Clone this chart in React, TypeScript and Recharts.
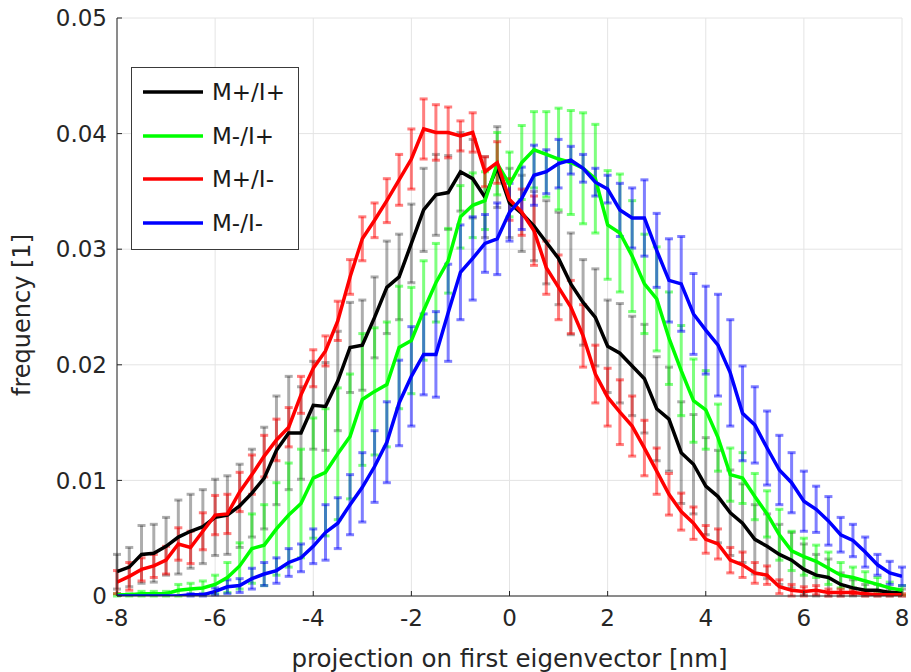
import React from 'react';
import { LineChart, Line, XAxis, YAxis, CartesianGrid, ErrorBar, Label } from 'recharts';

const xValues = [
  -8, -7.75, -7.5, -7.25, -7, -6.75, -6.5, -6.25, -6, -5.75, -5.5, -5.25, -5, -4.75, -4.5, -4.25,
  -4, -3.75, -3.5, -3.25, -3, -2.75, -2.5, -2.25, -2, -1.75, -1.5, -1.25, -1, -0.75, -0.5, -0.25,
  0, 0.25, 0.5, 0.75, 1, 1.25, 1.5, 1.75, 2, 2.25, 2.5, 2.75, 3, 3.25, 3.5, 3.75,
  4, 4.25, 4.5, 4.75, 5, 5.25, 5.5, 5.75, 6, 6.25, 6.5, 6.75, 7, 7.25, 7.5, 7.75, 8,
];

// M+/I+
const mpip = [
  0.0021, 0.0025, 0.0036, 0.0037, 0.0043, 0.0051, 0.0056, 0.006, 0.0068, 0.007, 0.0078, 0.0089, 0.0102, 0.0126, 0.0141, 0.0141,
  0.0165, 0.0164, 0.0186, 0.0215, 0.0217, 0.0241, 0.0267, 0.0276, 0.0305, 0.0334, 0.0347, 0.0349, 0.0367, 0.0361, 0.0345, 0.0371,
  0.034, 0.0331, 0.032, 0.0306, 0.0292, 0.027, 0.0254, 0.0241, 0.0216, 0.021, 0.0199, 0.0188, 0.0162, 0.0153, 0.0124, 0.0114,
  0.0095, 0.0086, 0.0072, 0.0063, 0.0049, 0.0043, 0.0036, 0.0031, 0.0023, 0.0018, 0.0016, 0.001, 0.0007, 0.0005, 0.0005, 0.0003, 0.0003,
];
const mpipErr = [
  0.0015, 0.0017, 0.0025, 0.0025, 0.0025, 0.0032, 0.0032, 0.0032, 0.0033, 0.0034, 0.0036, 0.0038, 0.0044, 0.0047, 0.0049, 0.004,
  0.0038, 0.0038, 0.0043, 0.0039, 0.0039, 0.0035, 0.004, 0.0037, 0.0034, 0.0036, 0.0035, 0.0032, 0.0034, 0.0034, 0.0035, 0.0035,
  0.003, 0.0033, 0.003, 0.0036, 0.004, 0.0044, 0.0037, 0.0042, 0.004, 0.0043, 0.0043, 0.0047, 0.0045, 0.0045, 0.0044, 0.0043,
  0.0042, 0.004, 0.0037, 0.0034, 0.003, 0.0028, 0.0026, 0.0024, 0.0022, 0.0018, 0.0016, 0.001, 0.0007, 0.0005, 0.0005, 0.0003, 0.0003,
];

// M-/I+
const mmip = [
  0.0001, 0.0001, 0.0002, 0.0002, 0.0002, 0.0005, 0.0006, 0.0007, 0.001, 0.0016, 0.0026, 0.0041, 0.0044, 0.0058, 0.007, 0.008,
  0.0102, 0.0107, 0.0123, 0.0138, 0.017, 0.0177, 0.0183, 0.0215, 0.0221, 0.0247, 0.0271, 0.029, 0.0328, 0.0338, 0.0342, 0.0374,
  0.0356, 0.0375, 0.0386, 0.0382, 0.0378, 0.0375, 0.037, 0.0361, 0.0321, 0.0314, 0.0294, 0.027, 0.0257, 0.0223, 0.0195, 0.0169,
  0.0161, 0.0137, 0.0105, 0.0102, 0.0086, 0.0071, 0.0053, 0.0039, 0.0034, 0.003, 0.0024, 0.0018, 0.0016, 0.0013, 0.001, 0.0007, 0.0005,
];
const mmipErr = [
  0.0001, 0.0001, 0.0002, 0.0002, 0.0002, 0.0005, 0.0005, 0.0006, 0.0008, 0.0013, 0.002, 0.003, 0.0035, 0.004, 0.0045, 0.0047,
  0.0052, 0.0055, 0.0057, 0.0054, 0.0057, 0.0055, 0.0054, 0.0053, 0.0046, 0.0043, 0.0034, 0.0028, 0.0027, 0.0028, 0.0025, 0.0027,
  0.0028, 0.0032, 0.0033, 0.0037, 0.0044, 0.0045, 0.0048, 0.0047, 0.0047, 0.0051, 0.0048, 0.0043, 0.0045, 0.004, 0.0039, 0.0036,
  0.0034, 0.0029, 0.0023, 0.0022, 0.002, 0.002, 0.0022, 0.0017, 0.0016, 0.0014, 0.0014, 0.0011, 0.0009, 0.0008, 0.0006, 0.0005, 0.0004,
];

// M+/I-
const mpim = [
  0.0012, 0.0017, 0.0023, 0.0026, 0.0031, 0.0045, 0.0042, 0.0056, 0.007, 0.0071, 0.009, 0.0105, 0.0121, 0.0135, 0.0146, 0.0174,
  0.0197, 0.0212, 0.0238, 0.0276, 0.0309, 0.0325, 0.0342, 0.036, 0.0378, 0.0404, 0.0401, 0.0401, 0.0398, 0.0401, 0.0367, 0.0375,
  0.0343, 0.0332, 0.0316, 0.0284, 0.0267, 0.025, 0.0225, 0.0192, 0.0172, 0.0159, 0.0147, 0.0128, 0.0108, 0.0088, 0.0073, 0.0063,
  0.0049, 0.0045, 0.0031, 0.0027, 0.002, 0.0018, 0.0008, 0.0005, 0.0004, 0.0005, 0.0003, 0.0003, 0.0003, 0.0002, 0.0001, 0.0001, 0.0001,
];
const mpimErr = [
  0.001, 0.0012, 0.001, 0.001, 0.0012, 0.0014, 0.0014, 0.0016, 0.0017, 0.0017, 0.0017, 0.0017, 0.0018, 0.0018, 0.0017, 0.0016,
  0.0016, 0.0013, 0.0017, 0.0015, 0.0019, 0.0015, 0.0019, 0.0022, 0.0026, 0.0026, 0.0024, 0.0022, 0.0013, 0.0017, 0.0013, 0.0018,
  0.0018, 0.002, 0.003, 0.0023, 0.0028, 0.0023, 0.0027, 0.0025, 0.0025, 0.0028, 0.0026, 0.0024, 0.002, 0.0018, 0.0016, 0.0014,
  0.0012, 0.0013, 0.0011, 0.0011, 0.0009, 0.0008, 0.0006, 0.0005, 0.0004, 0.0004, 0.0003, 0.0003, 0.0002, 0.0002, 0.0001, 0.0001, 0.0001,
];

// M-/I-
const mmim = [
  0, 0, 0, 0, 0, 0, 0.0001, 0.0001, 0.0004, 0.0008, 0.0009, 0.0015, 0.0019, 0.0022, 0.0029, 0.0033,
  0.0043, 0.0055, 0.0063, 0.0079, 0.0094, 0.0112, 0.0133, 0.0167, 0.019, 0.0209, 0.0209, 0.0245, 0.028, 0.0292, 0.0305, 0.0309,
  0.0332, 0.0344, 0.0364, 0.0367, 0.0374, 0.0377, 0.037, 0.0358, 0.0352, 0.0334, 0.0327, 0.0327, 0.0299, 0.0273, 0.027, 0.0244,
  0.023, 0.0217, 0.0193, 0.0158, 0.0148, 0.0128, 0.0109, 0.0098, 0.0082, 0.0075, 0.0065, 0.0053, 0.0048, 0.0038, 0.0027, 0.002, 0.0017,
];
const mmimErr = [
  0, 0, 0, 0, 0, 0, 0.0001, 0.0001, 0.0003, 0.0006, 0.0006, 0.0009, 0.001, 0.0011, 0.0012, 0.0012,
  0.0015, 0.0024, 0.0022, 0.0026, 0.003, 0.0031, 0.0035, 0.0037, 0.0043, 0.0035, 0.0037, 0.0042, 0.0041, 0.0036, 0.0025, 0.0031,
  0.0025, 0.0027, 0.0026, 0.0019, 0.0021, 0.0012, 0.0012, 0.0012, 0.0012, 0.0023, 0.0026, 0.0033, 0.0032, 0.0036, 0.0041, 0.0035,
  0.0038, 0.0044, 0.0046, 0.0041, 0.0033, 0.0032, 0.003, 0.0026, 0.0026, 0.002, 0.0021, 0.0015, 0.0014, 0.0013, 0.0009, 0.001, 0.0008,
];

const xTicks = [-8, -6, -4, -2, 0, 2, 4, 6, 8];
const yTicks = [0, 0.01, 0.02, 0.03, 0.04, 0.05];

const seriesNames = ['M+/I+', 'M-/I+', 'M+/I-', 'M-/I-'];
const seriesKeys = ['mpip', 'mmip', 'mpim', 'mmim'];
const seriesColors = ['#000000', '#00ff00', '#ff0000', '#0000ff'];
const errOpacity = [0.32, 0.5, 0.5, 0.5];

const rows = xValues.map((x, i) => ({
  x,
  mpip: mpip[i], mpipErr: mpipErr[i],
  mmip: mmip[i], mmipErr: mmipErr[i],
  mpim: mpim[i], mpimErr: mpimErr[i],
  mmim: mmim[i], mmimErr: mmimErr[i],
}));

const W = 911;
const H = 672;
const FONT = '"DejaVu Sans", sans-serif';
const AXIS = '#262626';

function XLabel(props: any) {
  const vb = props.viewBox || {};
  return (
    <text x={vb.x + vb.width / 2} y={667} textAnchor="middle" fontSize={24.5} fill={AXIS} fontFamily={FONT}>
      projection on first eigenvector [nm]
    </text>
  );
}

function YLabel(props: any) {
  const vb = props.viewBox || {};
  const cy = vb.y + vb.height / 2 + 8;
  return (
    <text x={30} y={cy} textAnchor="middle" fontSize={24} fill={AXIS} fontFamily={FONT} transform={`rotate(-90, 30, ${cy})`}>
      frequency [1]
    </text>
  );
}

function LegendBox() {
  const rowY = [25, 69, 112, 156];
  return (
    <svg style={{ position: 'absolute', left: 131, top: 67 }} width={169} height={184}>
      <rect x={0.5} y={0.5} width={167} height={182} fill="#ffffff" stroke="#3a3a3a" strokeWidth={1} />
      {seriesNames.map((n, i) => (
        <g key={n}>
          <line x1={12} x2={72} y1={rowY[i]} y2={rowY[i]} stroke={seriesColors[i]} strokeWidth={3.5} />
          <text x={81} y={rowY[i]} dy="0.36em" fontSize={23} fill="#1a1a1a" fontFamily={FONT}>{n}</text>
        </g>
      ))}
    </svg>
  );
}

export default function App() {
  return (
    <div style={{ position: 'absolute', left: 0, top: 0, width: W, height: H, background: '#fff', fontFamily: FONT }}>
      <LineChart width={W} height={H} data={rows} margin={{ top: 18, right: 9, bottom: 0, left: 0 }}>
        <CartesianGrid stroke="#e4e4e4" strokeWidth={1} />
        <XAxis
          dataKey="x"
          type="number"
          domain={[-8, 8]}
          ticks={xTicks}
          height={76}
          stroke={AXIS}
          tickSize={-5}
          tickMargin={19}
          tick={{ fontSize: 23, fill: AXIS, fontFamily: FONT }}
          allowDataOverflow
        >
          <Label content={<XLabel />} />
        </XAxis>
        <YAxis
          type="number"
          domain={[0, 0.05]}
          ticks={yTicks}
          width={117}
          stroke={AXIS}
          tickSize={-5}
          tickMargin={15}
          tick={{ fontSize: 23, fill: AXIS, fontFamily: FONT }}
          allowDataOverflow
        >
          <Label content={<YLabel />} />
        </YAxis>
        {seriesKeys.map((k, i) => (
          <Line
            key={k + 'err'}
            dataKey={k}
            stroke="none"
            dot={false}
            activeDot={false}
            legendType="none"
            isAnimationActive={false}
          >
            <ErrorBar
              dataKey={k + 'Err'}
              direction="y"
              width={4}
              strokeWidth={3}
              stroke={seriesColors[i]}
              strokeOpacity={errOpacity[i]}
              isAnimationActive={false}
            />
          </Line>
        ))}
        {seriesKeys.map((k, i) => (
          <Line
            key={k}
            type="linear"
            dataKey={k}
            name={seriesNames[i]}
            stroke={seriesColors[i]}
            strokeWidth={3.5}
            dot={false}
            activeDot={false}
            isAnimationActive={false}
          />
        ))}
      </LineChart>
      <LegendBox />
    </div>
  );
}
